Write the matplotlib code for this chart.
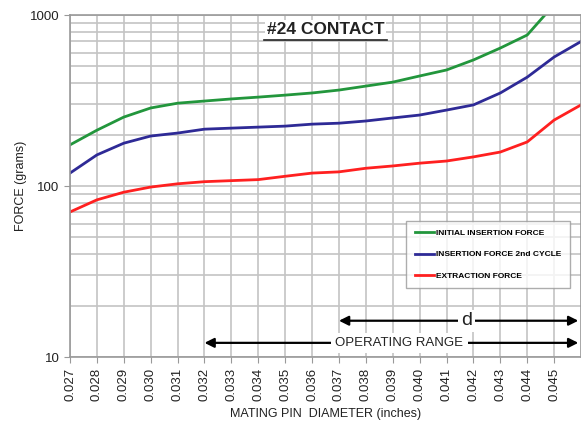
import matplotlib
matplotlib.use("Agg")
from matplotlib import pyplot as plt
from matplotlib.lines import Line2D
import numpy as np

plt.rcParams['font.family'] = ['Liberation Sans', 'DejaVu Sans']

# mating pin diameter (inches)
diameter = [0.027, 0.028, 0.029, 0.030, 0.031, 0.032, 0.033, 0.034, 0.035, 0.036,
            0.037, 0.038, 0.039, 0.040, 0.041, 0.042, 0.043, 0.044, 0.045, 0.046]
# force (grams)
initial_insertion = [174, 212, 253, 286, 305, 314, 323, 331, 340, 350,
                     364, 384, 405, 440, 477, 546, 641, 764, 1150, 1500]
insertion_2nd = [119, 152, 178, 196, 204, 215, 218, 221, 224, 230,
                 233, 240, 250, 260, 278, 298, 350, 433, 568, 700]
extraction = [70.5, 83, 92, 98.6, 103, 106, 107.5, 109, 114, 119,
              121, 127, 131, 136, 140, 148, 158, 181, 243, 298]

tick_vals = [0.027, 0.028, 0.029, 0.030, 0.031, 0.032, 0.033, 0.034, 0.035, 0.036,
             0.037, 0.038, 0.039, 0.040, 0.041, 0.042, 0.043, 0.044, 0.045]
tick_labels = ["%.3f" % v for v in tick_vals]

d_range = (0.037, 0.0459)
op_range = (0.032, 0.0459)

fig = plt.figure(figsize=(5.81, 4.24), dpi=100)
ax = fig.add_axes([0.1205, 0.158, 0.8795, 0.8066])

ax.plot(diameter, initial_insertion, color="#22963c", lw=2, label="INITIAL INSERTION FORCE")
ax.plot(diameter, insertion_2nd, color="#2e2a96", lw=2, label="INSERTION FORCE 2nd CYCLE")
ax.plot(diameter, extraction, color="#ff2020", lw=2, label="EXTRACTION FORCE")

ax.set_yscale("log")
ax.set_xlim(0.027, 0.046)
ax.set_ylim(10, 1000)
ax.set_xticks(tick_vals)
ax.set_xticklabels(tick_labels, rotation=90, fontsize=9.5, color="#222222")
ax.set_yticks([10, 100, 1000])
ax.set_yticklabels(["10", "100", "1000"], fontsize=9.5, color="#222222")
ax.tick_params(axis="y", which="minor", length=0, labelleft=False)
ax.tick_params(axis="both", which="major", length=4, color="#999999")

ax.grid(True, which="major", axis="x", color="#c4c4c4", lw=1.2)
ax.grid(True, which="both", axis="y", color="#c4c4c4", lw=1.2)
ax.set_axisbelow(True)
for s in ax.spines.values():
    s.set_color("#999999")
    s.set_linewidth(1.2)

ax.set_xlabel("MATING PIN  DIAMETER (inches)", fontsize=9, color="#222222", labelpad=5)
ax.set_ylabel("FORCE (grams)", fontsize=9, color="#222222", labelpad=2)

# title, underlined, on white background
ax.text(0.5, 0.958, "#24 CONTACT", transform=ax.transAxes, ha="center", va="center",
        fontsize=12.5, fontweight="bold", color="#222222",
        bbox=dict(facecolor="white", edgecolor="none", pad=1.5))
ax.add_line(Line2D([0.38, 0.62], [0.928, 0.928], transform=ax.transAxes,
                   color="#222222", lw=1.2, zorder=6))

leg = ax.legend(loc="lower right", bbox_to_anchor=(0.978, 0.202), fontsize=6,
                frameon=True, fancybox=False, edgecolor="#999999", handlelength=2.3,
                labelspacing=1.6, borderpad=1.0, handletextpad=0.3, borderaxespad=0)
leg.get_frame().set_linewidth(1.0)
for t in leg.get_texts():
    t.set_fontweight("bold")

# range arrows
ax.annotate("", xy=(d_range[1], 16.3), xytext=(d_range[0], 16.3),
            arrowprops=dict(arrowstyle="<|-|>", color="black", lw=1.6, mutation_scale=14,
                            shrinkA=0, shrinkB=0))
ax.text(0.04175, 16.3, "d", ha="center", va="center", fontsize=14, color="#222222",
        bbox=dict(facecolor="white", edgecolor="none", pad=2))
ax.annotate("", xy=(op_range[1], 12.1), xytext=(op_range[0], 12.1),
            arrowprops=dict(arrowstyle="<|-|>", color="black", lw=1.6, mutation_scale=14,
                            shrinkA=0, shrinkB=0))
ax.text(0.03925, 12.1, "OPERATING RANGE", ha="center", va="center", fontsize=9.5,
        color="#222222", bbox=dict(facecolor="white", edgecolor="none", pad=3))

fig.savefig("out.png", dpi=100)
